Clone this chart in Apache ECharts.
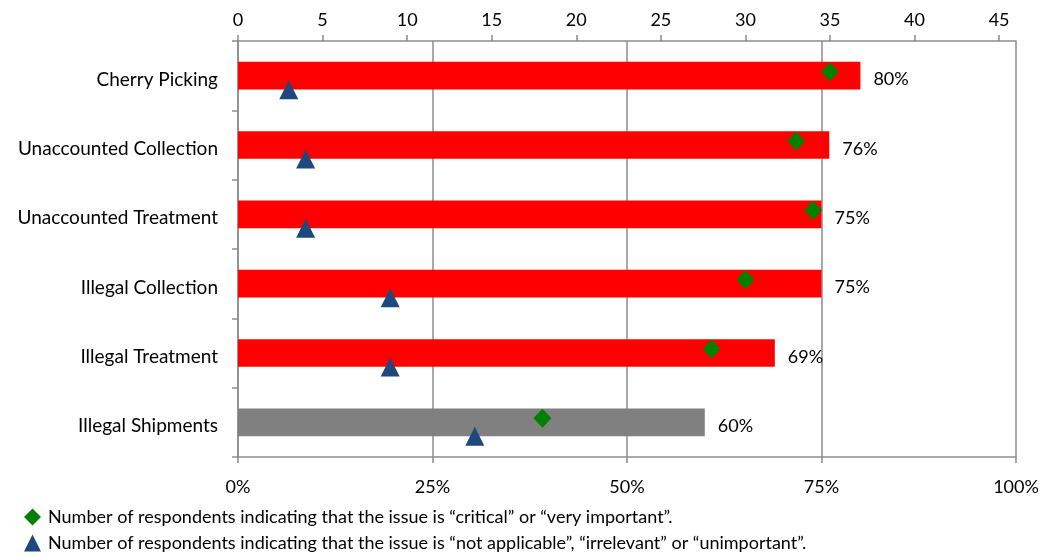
<!DOCTYPE html>
<html>
<head>
<meta charset="utf-8">
<script src="https://cdn.jsdelivr.net/npm/echarts@6/dist/echarts.min.js"></script>
<style>
  html, body { margin: 0; padding: 0; background: #fff; }
  #chart { width: 1043px; height: 555px; }
</style>
</head>
<body>
<div id="chart"></div>
<script>
// Issue categories, listed top to bottom
const categories = [
  'Cherry Picking',
  'Unaccounted Collection',
  'Unaccounted Treatment',
  'Illegal Collection',
  'Illegal Treatment',
  'Illegal Shipments'
];
// Share of respondents (%) shown as bars
const sharePercent = [80, 76, 75, 75, 69, 60];
// Respondent counts (top axis)
const criticalCounts = [35, 33, 34, 30, 28, 18];
const notApplicableCounts = [3, 4, 4, 9, 9, 14];
// Axis ticks
const percentTicks = [0, 25, 50, 75, 100];
const countTicks = [0, 5, 10, 15, 20, 25, 30, 35, 40, 45];
const countMax = 46;

const criticalName = 'Number of respondents indicating that the issue is \u201Ccritical\u201D or \u201Cvery important\u201D.';
const notApplicableName = 'Number of respondents indicating that the issue is \u201Cnot applicable\u201D, \u201Cirrelevant\u201D or \u201Cunimportant\u201D.';

const FONT = 'Lato, "Open Sans", sans-serif';
const AXIS_GRAY = '#8c8c8c';

const chart = echarts.init(document.getElementById('chart'), null, { renderer: 'canvas' });

chart.setOption({
  animation: false,
  textStyle: { fontFamily: FONT },
  grid: { left: 238, right: 27, top: 41, bottom: 98, containLabel: false },
  xAxis: [
    {
      type: 'value',
      position: 'bottom',
      min: percentTicks[0],
      max: percentTicks[percentTicks.length - 1],
      interval: 25,
      axisLine: { show: true, lineStyle: { color: AXIS_GRAY, width: 1.5 } },
      axisTick: { show: true, length: 6, lineStyle: { color: AXIS_GRAY, width: 1.5 } },
      axisLabel: { formatter: '{value}%', fontSize: 18, color: '#000', margin: 21, fontFamily: FONT },
      splitLine: { show: true, lineStyle: { color: AXIS_GRAY, width: 1.5 } }
    },
    {
      type: 'value',
      position: 'top',
      min: 0,
      max: countMax,
      interval: 5,
      axisLine: { show: true, lineStyle: { color: AXIS_GRAY, width: 1.5 } },
      axisTick: { show: true, length: 6, customValues: countTicks, lineStyle: { color: AXIS_GRAY, width: 1.5 } },
      axisLabel: { fontSize: 18, color: '#000', margin: 12, customValues: countTicks, fontFamily: FONT },
      splitLine: { show: false }
    }
  ],
  yAxis: [
    {
      type: 'category',
      data: categories,
      inverse: true,
      axisLine: { show: true, lineStyle: { color: AXIS_GRAY, width: 1.5 } },
      axisTick: { show: true, length: 6, lineStyle: { color: AXIS_GRAY, width: 1.5 } },
      axisLabel: {
        fontSize: 19,
        color: '#000',
        margin: 20,
        fontFamily: FONT,
        formatter: v => '{c|' + v + '}',
        rich: { c: { fontSize: 19, fontFamily: FONT, color: '#000', padding: [8, 0, 0, 0] } }
      },
      splitLine: { show: false }
    }
  ],
  legend: {
    orient: 'vertical',
    left: 24,
    top: 508,
    padding: 0,
    itemGap: 8,
    itemWidth: 17,
    itemHeight: 17,
    data: [criticalName, notApplicableName],
    textStyle: { fontSize: 18, lineHeight: 17, color: '#000', fontFamily: FONT, padding: [0, 0, 0, 2] },
    selectedMode: false
  },
  series: [
    {
      type: 'bar',
      name: 'Share',
      xAxisIndex: 0,
      yAxisIndex: 0,
      data: sharePercent,
      barWidth: '40%',
      itemStyle: {
        color: p => (p.dataIndex === categories.length - 1 ? '#808080' : '#ff0000')
      },
      label: {
        show: true,
        position: 'right',
        distance: 13,
        formatter: '{c}%',
        fontSize: 18,
        color: '#000',
        fontFamily: FONT,
        offset: [0, 4]
      },
      z: 2
    },
    {
      type: 'scatter',
      name: criticalName,
      xAxisIndex: 1,
      yAxisIndex: 0,
      data: criticalCounts.map((v, i) => [v, categories[i]]),
      symbol: 'diamond',
      symbolSize: [18, 19],
      symbolOffset: [0, -4],
      itemStyle: { color: '#008000', opacity: 1 },
      z: 3
    },
    {
      type: 'scatter',
      name: notApplicableName,
      xAxisIndex: 1,
      yAxisIndex: 0,
      data: notApplicableCounts.map((v, i) => [v, categories[i]]),
      symbol: 'triangle',
      symbolSize: [19, 19],
      symbolOffset: [0, 14],
      itemStyle: { color: '#1f497d', opacity: 1 },
      z: 3
    }
  ]
});
</script>
</body>
</html>
